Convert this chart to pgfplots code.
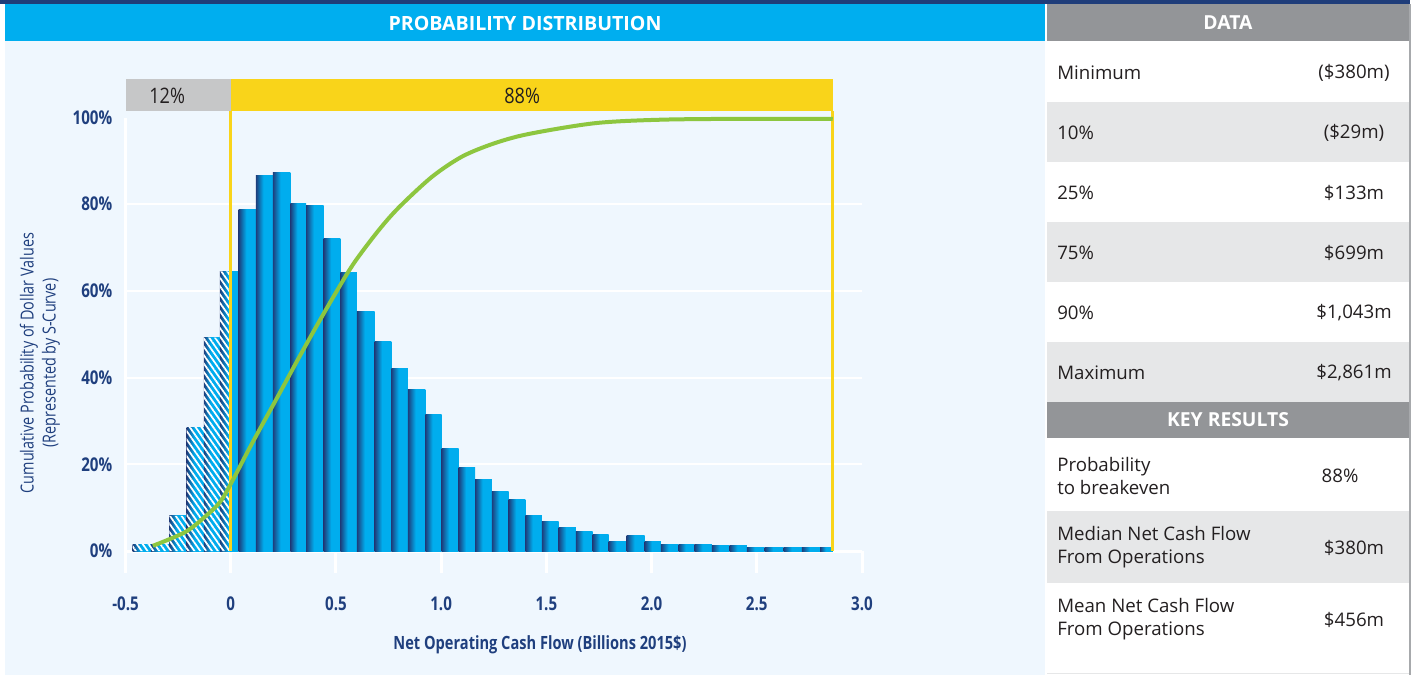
\documentclass[border=0pt]{standalone}
\usepackage{fontspec}
\setmainfont{Open Sans}
\newfontfamily\condfont[FakeStretch=0.8]{Open Sans}
\newfontfamily\bandfont[FakeStretch=0.85]{Open Sans}
\usepackage{pgfplots}
\usepackage{pgfplotstable}
\pgfplotsset{compat=1.18}
\usetikzlibrary{patterns.meta}

\definecolor{navytop}{HTML}{1F3D7A}
\definecolor{cyanhead}{HTML}{00AEEF}
\definecolor{panel}{HTML}{EFF7FE}
\definecolor{grayhead}{HTML}{939598}
\definecolor{rowgray}{HTML}{E6E7E8}
\definecolor{bordergray}{HTML}{A7A9AC}
\definecolor{axisnavy}{HTML}{1F3F7E}
\definecolor{bandgray}{HTML}{C6C7C8}
\definecolor{bandyellow}{HTML}{F9D41A}
\definecolor{curvegreen}{HTML}{8DC63F}
\definecolor{barnavy}{HTML}{1D3E7C}
\definecolor{barcyan}{HTML}{00ADEE}
\definecolor{textdark}{HTML}{231F20}

% dark left edge fading to cyan a little before the middle of each bar
\pgfdeclarehorizontalshading{barshade}{100bp}{color(0bp)=(barnavy); color(25bp)=(barnavy);
  color(47bp)=(barcyan); color(100bp)=(barcyan)}

% histogram bins: left edge and height in %; last row closes the final bin
\pgfplotstableread{
x      h
-0.466 1.6
-0.380 1.6
-0.292 8.1
-0.209 28.6
-0.128 49.2
-0.052 64.5
0.038  78.8
0.120  86.6
0.200  87.4
0.284  80.1
0.358  79.7
0.442  72.2
0.521  64.3
0.600  55.3
0.684  48.4
0.763  42.2
0.842  37.3
0.925  31.6
1.002  23.7
1.083  19.3
1.162  16.4
1.241  13.8
1.321  11.8
1.400  8.1
1.479  6.7
1.558  5.5
1.640  4.6
1.720  3.7
1.796  2.3
1.881  3.5
1.967  2.3
2.044  1.4
2.128  1.4
2.204  1.4
2.287  1.2
2.371  1.2
2.453  0.7
2.537  0.7
2.627  0.7
2.714  0.7
2.801  0.7
2.861  0.7
}\bins

\begin{document}
\begin{tikzpicture}
\path[use as bounding box] (0pt,0pt) rectangle (1061.25pt,-506.25pt);

% panels and table, in pixel units of the reference
\begin{scope}[x=0.75pt,y=-0.75pt]
\fill[white] (0,0) rectangle (1415,675);
\fill[navytop] (0,0) rectangle (1410,4);
\fill[cyanhead] (5,4) rectangle (1045,41);
\fill[panel] (5,41) rectangle (1045,675);
\fill[grayhead] (1047,4) rectangle (1409,41);
\fill[rowgray] (1047,102) rectangle (1409,162);
\fill[rowgray] (1047,222) rectangle (1409,282);
\fill[rowgray] (1047,342) rectangle (1409,402);
\fill[grayhead] (1047,402) rectangle (1409,438);
\fill[rowgray] (1047,511) rectangle (1409,583);
\draw[bordergray, line width=1.5pt] (1409.5,4) -- (1409.5,675);
\draw[rowgray, line width=0.75pt] (1047,673.5) -- (1409,673.5);

\node[text=white, font=\bfseries\fontsize{14.7pt}{17pt}\selectfont] at (525,23) {PROBABILITY DISTRIBUTION};
\node[text=white, font=\bfseries\fontsize{14.5pt}{17pt}\selectfont] at (1228,23) {DATA};
\node[text=white, font=\bfseries\fontsize{14.5pt}{17pt}\selectfont] at (1228,420) {KEY RESULTS};

\tikzset{lab/.style={anchor=west, text=textdark, inner sep=0pt, align=left,
  font=\fontsize{14pt}{17.25pt}\selectfont},
  val/.style={anchor=center, text=textdark, inner sep=0pt,
  font=\fontsize{14pt}{17.25pt}\selectfont}}
\node[lab] at (1057,73) {Minimum};      \node[val] at (1354,73) {(\$380m)};
\node[lab] at (1057,133) {10\%};        \node[val] at (1354,133) {(\$29m)};
\node[lab] at (1057,193) {25\%};        \node[val] at (1354,193) {\$133m};
\node[lab] at (1057,253) {75\%};        \node[val] at (1354,253) {\$699m};
\node[lab] at (1057,313) {90\%};        \node[val] at (1354,313) {\$1,043m};
\node[lab] at (1057,373) {Maximum};     \node[val] at (1354,373) {\$2,861m};
\node[lab] at (1057,476) {Probability\\to breakeven};          \node[val] at (1340,476) {88\%};
\node[lab] at (1057,547) {Median Net Cash Flow\\From Operations}; \node[val] at (1354,548) {\$380m};
\node[lab] at (1057,619) {Mean Net Cash Flow\\From Operations};   \node[val] at (1354,620) {\$456m};

% axis titles
\node[text=axisnavy, font=\condfont\bfseries\fontsize{13.7pt}{15pt}\selectfont] at (540,645)
  {Net Operating Cash Flow (Billions 2015\$)};
\node[rotate=90, text=axisnavy, align=center,
  font=\condfont\fontsize{13.5pt}{16.5pt}\selectfont] at (40,363)
  {Cumulative Probability of Dollar Values\\(Represented by S-Curve)};
\end{scope}

\begin{axis}[
  at={(94.125pt,-413.25pt)}, anchor=south west,
  scale only axis, width=552.375pt, height=325.125pt,
  xmin=-0.5, xmax=3.0, ymin=0, ymax=100,
  clip=false,
  axis x line*=bottom, axis y line*=left,
  axis line style={white, line width=2.25pt, -},
  xtick={-0.5,0,0.5,1,1.5,2,2.5,3},
  xticklabels={-0.5,0,0.5,1.0,1.5,2.0,2.5,3.0},
  ytick={0,20,40,60,80},
  yticklabels={0\%,20\%,40\%,60\%,80\%},
  extra y ticks={100}, extra y tick labels={100\%},
  extra y tick style={grid=none},
  ymajorgrids, grid style={white, line width=1.5pt},
  tick align=outside, major tick length=16.5pt,
  xtick style={white, line width=2.25pt},
  ytick style={draw=none},
  ticklabel style={font=\condfont\bfseries\fontsize{14.2pt}{16pt}\selectfont, text=axisnavy},
  xticklabel style={anchor=base, inner sep=0pt, yshift=-28pt},
  yticklabel style={anchor=east, inner sep=0pt, xshift=6.75pt},
  binbar/.style={ybar interval, draw=none, shading=barshade},
]
% top band
\addplot[fill=bandgray, draw=none] coordinates {(-0.5,101.5) (0,101.5) (0,108.9) (-0.5,108.9)} -- cycle;
\addplot[fill=bandyellow, draw=none] coordinates {(0,101.5) (2.861,101.5) (2.861,108.9) (0,108.9)} -- cycle;
\node[text=textdark, font=\bandfont\fontsize{16pt}{18pt}\selectfont] at (axis cs:-0.302,104.9) {12\%};
\node[text=textdark, font=\bandfont\fontsize{16pt}{18pt}\selectfont] at (axis cs:1.385,104.9) {88\%};

% histogram: one plot per bin so each bar gets its own shading
\pgfplotsinvokeforeach{0,...,40}{
  \addplot[binbar,
    x filter/.expression={((\coordindex<#1)||(\coordindex>#1+1)) ? nan : x}]
    table[x=x, y=h] {\bins};
}
% losses: hatched part below zero
\addplot[ybar interval, draw=none, pattern={Lines[angle=-55,distance=3.6pt,line width=1.3pt]}, pattern color=white]
coordinates {
(-0.466,1.6) (-0.380,1.6) (-0.292,8.1) (-0.209,28.6) (-0.128,49.2) (-0.052,64.5) (0,0)
};

% breakeven and maximum markers
\addplot[bandyellow, line width=2.25pt] coordinates {(0,0) (0,101.5)};
\addplot[bandyellow, line width=2.25pt] coordinates {(2.861,0) (2.861,101.5)};

% S-curve
\addplot[curvegreen, line width=3pt, smooth, tension=0.5] coordinates {
(-0.37,1.2) (-0.215,4.4) (-0.113,8.3) (-0.049,11.4) (0.006,16.0) (0.101,24.8)
(0.212,34.6) (0.323,44.5) (0.400,51.2) (0.490,58.8) (0.584,66.3) (0.700,73.8)
(0.798,79.2) (0.956,86.3) (1.100,91.0) (1.250,94.0) (1.416,96.2) (1.733,98.7)
(2.049,99.5) (2.450,99.7) (2.861,99.7)
};
\end{axis}
\end{tikzpicture}
\end{document}
